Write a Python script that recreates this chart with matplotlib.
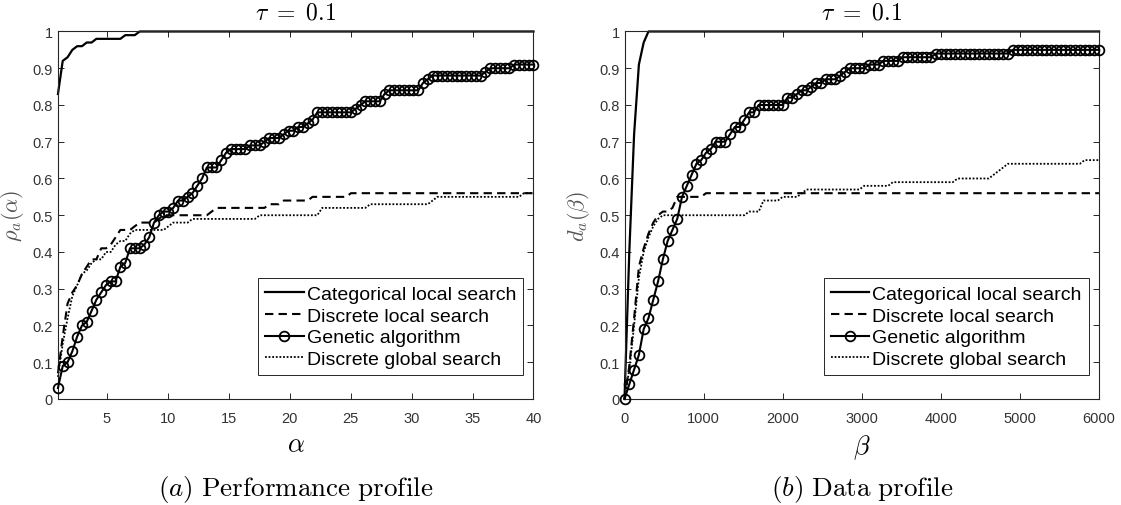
import numpy as np
import matplotlib.pyplot as plt
from matplotlib.ticker import FuncFormatter

# ---- performance profile (left) ----
alpha_grid = np.linspace(1, 40, 100)

cat_a_x = [1.0, 1.39, 1.79, 2.18, 2.58, 2.97, 3.36, 3.76, 4.15, 6.12, 6.52, 7.30, 7.70, 40.0]
cat_a_y = [0.83, 0.92, 0.93, 0.95, 0.96, 0.96, 0.97, 0.97, 0.98, 0.98, 0.99, 0.99, 1.0, 1.0]

dls_a_x = [1.0, 1.39, 1.79, 2.18, 2.58, 2.97, 3.36, 3.76, 4.15, 4.55, 4.94, 5.33, 5.73, 6.12,
           6.91, 7.30, 7.70, 8.88, 9.27, 9.67, 13.21, 13.61, 14.0, 17.94, 18.33, 19.12,
           19.52, 21.48, 21.88, 24.64, 25.03, 40.0]
dls_a_y = [0.07, 0.17, 0.26, 0.29, 0.31, 0.34, 0.36, 0.38, 0.38, 0.41, 0.41, 0.42, 0.44, 0.46,
           0.46, 0.47, 0.48, 0.48, 0.49, 0.50, 0.50, 0.51, 0.52, 0.52, 0.53, 0.53,
           0.54, 0.54, 0.55, 0.55, 0.56, 0.56]

ga_a = [0.03, 0.09, 0.10, 0.13, 0.17, 0.20, 0.21, 0.24, 0.27, 0.29,
        0.31, 0.32, 0.32, 0.36, 0.37, 0.41, 0.41, 0.41, 0.42, 0.44,
        0.48, 0.50, 0.51, 0.51, 0.52, 0.54, 0.54, 0.55, 0.56, 0.58,
        0.60, 0.63, 0.63, 0.63, 0.65, 0.67, 0.68, 0.68, 0.68, 0.68,
        0.69, 0.69, 0.69, 0.70, 0.71, 0.71, 0.71, 0.72, 0.73, 0.73,
        0.74, 0.74, 0.75, 0.76, 0.78, 0.78, 0.78, 0.78, 0.78, 0.78,
        0.78, 0.78, 0.79, 0.80, 0.81, 0.81, 0.81, 0.81, 0.83, 0.84,
        0.84, 0.84, 0.84, 0.84, 0.84, 0.84, 0.86, 0.87, 0.88, 0.88,
        0.88, 0.88, 0.88, 0.88, 0.88, 0.88, 0.88, 0.88, 0.88, 0.89,
        0.90, 0.90, 0.90, 0.90, 0.90, 0.91, 0.91, 0.91, 0.91, 0.91]

dgs_a_x = [1.0, 1.39, 1.79, 2.18, 2.58, 2.97, 3.36, 3.76, 4.15, 4.55, 4.94, 5.33, 5.73, 6.12,
           6.52, 6.91, 7.30, 9.67, 10.06, 10.45, 11.64, 12.03, 17.15, 17.55, 22.27, 22.67,
           26.21, 26.61, 31.33, 31.73, 32.12, 38.82, 39.21, 40.0]
dgs_a_y = [0.06, 0.15, 0.22, 0.28, 0.31, 0.34, 0.35, 0.37, 0.38, 0.38, 0.40, 0.40, 0.42, 0.43,
           0.43, 0.45, 0.46, 0.46, 0.47, 0.48, 0.48, 0.49, 0.49, 0.50, 0.50, 0.52,
           0.52, 0.53, 0.53, 0.54, 0.55, 0.55, 0.56, 0.56]

# ---- data profile (right) ----
beta_grid = np.linspace(0, 6000, 100)

cat_b_x = [0, 60.6, 121.2, 181.8, 242.4, 303.0, 6000]
cat_b_y = [0.0, 0.40, 0.72, 0.91, 0.97, 1.0, 1.0]

dls_b_x = [0, 60.6, 121.2, 181.8, 242.4, 303.0, 363.6, 424.2, 484.8, 545.5, 606.1, 666.7,
           969.7, 1030.3, 6000]
dls_b_y = [0.0, 0.09, 0.22, 0.36, 0.41, 0.45, 0.48, 0.50, 0.51, 0.51, 0.52, 0.55,
           0.55, 0.56, 0.56]

ga_b = [0.00, 0.04, 0.08, 0.12, 0.19, 0.22, 0.27, 0.32, 0.38, 0.43,
        0.46, 0.49, 0.55, 0.58, 0.61, 0.64, 0.65, 0.67, 0.68, 0.70,
        0.70, 0.70, 0.72, 0.74, 0.74, 0.76, 0.78, 0.78, 0.80, 0.80,
        0.80, 0.80, 0.80, 0.80, 0.82, 0.82, 0.83, 0.84, 0.84, 0.85,
        0.86, 0.86, 0.87, 0.87, 0.87, 0.88, 0.89, 0.90, 0.90, 0.90,
        0.90, 0.91, 0.91, 0.91, 0.92, 0.92, 0.92, 0.92, 0.93, 0.93,
        0.93, 0.93, 0.93, 0.93, 0.93, 0.94, 0.94, 0.94, 0.94, 0.94,
        0.94, 0.94, 0.94, 0.94, 0.94, 0.94, 0.94, 0.94, 0.94, 0.94,
        0.94, 0.95, 0.95, 0.95, 0.95, 0.95, 0.95, 0.95, 0.95, 0.95,
        0.95, 0.95, 0.95, 0.95, 0.95, 0.95, 0.95, 0.95, 0.95, 0.95]

dgs_b_x = [0, 60.6, 121.2, 181.8, 242.4, 303.0, 363.6, 424.2, 484.8, 1515.2, 1575.8, 1697.0,
           1757.6, 1939.4, 2000.0, 2181.8, 2242.4, 2303.0, 2969.7, 3030.3, 3333.3, 3393.9,
           4151.5, 4212.1, 4606.1, 4666.7, 4727.3, 4787.9, 4848.5, 5757.6, 5818.2, 6000]
dgs_b_y = [0.0, 0.08, 0.20, 0.33, 0.40, 0.44, 0.47, 0.49, 0.50, 0.50, 0.51, 0.51,
           0.54, 0.54, 0.55, 0.55, 0.56, 0.57, 0.57, 0.58, 0.58, 0.59,
           0.59, 0.60, 0.60, 0.61, 0.62, 0.63, 0.64, 0.64, 0.65, 0.65]

labels = ['Categorical local search', 'Discrete local search',
          'Genetic algorithm', 'Discrete global search']

plt.rcParams['mathtext.fontset'] = 'cm'
plt.rcParams['font.family'] = ['Liberation Sans', 'DejaVu Sans']

fig = plt.figure(figsize=(11.21, 5.06), dpi=100)
ax1 = fig.add_axes([0.0517, 0.2095, 0.4242, 0.7263])
ax2 = fig.add_axes([0.5571, 0.2095, 0.4233, 0.7263])


def draw_panel(ax, cx, cy, dx, dy, gx, gy, sx, sy):
    ax.plot(cx, cy, color='k', lw=1.6, label=labels[0], clip_on=False)
    ax.plot(dx, dy, color='k', lw=1.5, ls=(0, (4, 2.5)), label=labels[1], clip_on=False)
    ax.plot(gx, gy, color='k', lw=1.5, marker='o', ms=7, mfc='none', mew=1.3,
            label=labels[2], clip_on=False, zorder=3)
    ax.plot(sx, sy, color='k', lw=1.3, ls=(0, (1, 1)), label=labels[3], clip_on=False)
    ax.set_ylim(0, 1)
    ax.set_yticks(np.arange(0, 1.01, 0.1))
    ax.yaxis.set_major_formatter(FuncFormatter(lambda v, p: f'{v:.1f}'.rstrip('0').rstrip('.') if v else '0'))
    ax.tick_params(direction='in', top=True, right=True, length=4, width=0.7,
                   labelsize=10.5, colors='#262626', labelcolor='#333333')
    ax.tick_params(axis='x', pad=9)
    for s in ax.spines.values():
        s.set_color('#262626')
        s.set_linewidth(0.8)
    ax.set_title(r'$\tau\ =\ 0.1$', fontsize=17, pad=9)
    leg = ax.legend(loc='lower right', bbox_to_anchor=(0.978, 0.065), borderaxespad=0,
                    fontsize=14, handlelength=2.0, handletextpad=0.15, labelspacing=0.22,
                    borderpad=0.35, fancybox=False, framealpha=1, edgecolor='#262626')
    leg.get_frame().set_linewidth(0.7)
    leg.set_zorder(5)


draw_panel(ax1, cat_a_x, cat_a_y, dls_a_x, dls_a_y, alpha_grid, ga_a, dgs_a_x, dgs_a_y)
ax1.set_xlim(1, 40)
ax1.set_xticks(range(5, 41, 5))
ax1.set_xlabel(r'$\alpha$', fontsize=19, labelpad=5)
ax1.set_ylabel(r'$\rho_a(\alpha)$', fontsize=16, color='#555555', labelpad=5)

draw_panel(ax2, cat_b_x, cat_b_y, dls_b_x, dls_b_y, beta_grid, ga_b, dgs_b_x, dgs_b_y)
ax2.set_xlim(0, 6000)
ax2.set_xticks(range(0, 6001, 1000))
ax2.set_xlabel(r'$\beta$', fontsize=19, labelpad=5)
ax2.set_ylabel(r'$d_a(\beta)$', fontsize=16, color='#555555', labelpad=5)

fig.text(0.2638, 1 - 490 / 506, r'$(a)\ \mathrm{Performance\ profile}$', ha='center',
         va='center', fontsize=19.5)
fig.text(0.7688, 1 - 490 / 506, r'$(b)\ \mathrm{Data\ profile}$', ha='center',
         va='center', fontsize=19.5)

fig.savefig('out.png', dpi=100)
